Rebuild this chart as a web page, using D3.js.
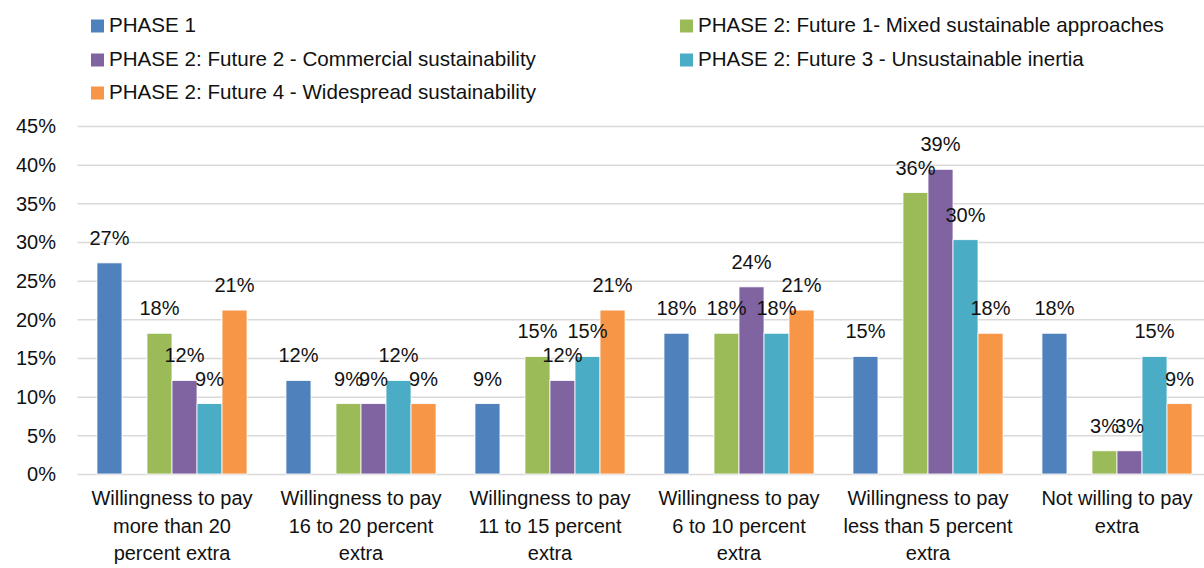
<!DOCTYPE html>
<html>
<head>
<meta charset="utf-8">
<script src="https://cdnjs.cloudflare.com/ajax/libs/d3/7.8.5/d3.min.js"></script>
<style>
  body { margin: 0; background: #fff; }
  svg { display: block; font-family: "Liberation Sans", Arial, sans-serif; }
  .grid line { stroke: #d9d9d9; stroke-width: 1.5; }
  .grid path { display: none; }
</style>
</head>
<body>
<script>
// categories along the x axis (each line of the wrapped label)
var categories = [
  ["Willingness to pay", "more than 20", "percent extra"],
  ["Willingness to pay", "16 to 20 percent", "extra"],
  ["Willingness to pay", "11 to 15 percent", "extra"],
  ["Willingness to pay", "6 to 10 percent", "extra"],
  ["Willingness to pay", "less than 5 percent", "extra"],
  ["Not willing to pay", "extra"]
];

// series values (fractions)
var phase1  = [0.273, 0.121, 0.091, 0.182, 0.152, 0.182];
var future1 = [0.182, 0.091, 0.152, 0.182, 0.364, 0.030];
var future2 = [0.121, 0.091, 0.121, 0.242, 0.394, 0.030];
var future3 = [0.091, 0.121, 0.152, 0.182, 0.303, 0.152];
var future4 = [0.212, 0.091, 0.212, 0.212, 0.182, 0.091];

var seriesNames = [
  "PHASE 1",
  "PHASE 2: Future 1- Mixed sustainable approaches",
  "PHASE 2: Future 2 - Commercial sustainability",
  "PHASE 2: Future 3 - Unsustainable inertia",
  "PHASE 2: Future 4 - Widespread sustainability"
];
var seriesColors = ["#4f81bd", "#9bbb59", "#8064a2", "#4bacc6", "#f79646"];

// slot order inside each group; the second slot is an empty series
var slots = ["s0", "blank", "s1", "s2", "s3", "s4"];

var yTicks = [0, 0.05, 0.10, 0.15, 0.20, 0.25, 0.30, 0.35, 0.40, 0.45];

var series = [phase1, future1, future2, future3, future4].map(function(v, i) {
  return { key: "s" + i, name: seriesNames[i], color: seriesColors[i], values: v };
});

var width = 1204, height = 568;
var plot = { left: 77.5, right: 1211.5, top: 126, bottom: 474 };

var svg = d3.select("body").append("svg")
    .attr("width", width)
    .attr("height", height);

var x0 = d3.scaleBand()
    .domain(d3.range(categories.length))
    .range([plot.left, plot.right])
    .paddingInner(0.206)
    .paddingOuter(0.103);

var x1 = d3.scaleBand()
    .domain(slots)
    .range([0, x0.bandwidth()]);

var y = d3.scaleLinear()
    .domain([0, 0.45])
    .range([plot.bottom, plot.top]);

// gridlines
svg.append("g")
    .attr("class", "grid")
    .attr("transform", "translate(" + plot.left + ",0)")
    .call(d3.axisLeft(y).tickValues(yTicks).tickSize(-(plot.right - plot.left)).tickFormat(""));

// y tick labels
svg.append("g")
  .selectAll("text")
  .data(yTicks)
  .enter().append("text")
    .attr("x", 56)
    .attr("y", function(d) { return y(d); })
    .attr("dy", "0.36em")
    .attr("text-anchor", "end")
    .attr("font-size", 20)
    .attr("fill", "#111")
    .text(d3.format(".0%"));

// bars
var groups = svg.append("g")
  .selectAll("g")
  .data(categories)
  .enter().append("g")
    .attr("transform", function(d, i) { return "translate(" + x0(i) + ",0)"; });

groups.selectAll("rect")
    .data(function(d, i) {
      return series.map(function(s) { return { key: s.key, color: s.color, value: s.values[i] }; });
    })
  .enter().append("rect")
    .attr("x", function(d) { return x1(d.key); })
    .attr("y", function(d) { return y(d.value); })
    .attr("width", x1.bandwidth())
    .attr("height", function(d) { return y(0) - y(d.value); })
    .attr("fill", function(d) { return d.color; })
    .attr("stroke", "#fff")
    .attr("stroke-width", 0.8);

// data labels (overlapping pairs are as in the original)
groups.selectAll("text.lbl")
    .data(function(d, i) {
      return series.map(function(s) { return { key: s.key, value: s.values[i] }; });
    })
  .enter().append("text")
    .attr("class", "lbl")
    .attr("x", function(d) { return x1(d.key) + x1.bandwidth() / 2; })
    .attr("y", function(d) { return y(d.value) - 18; })
    .attr("text-anchor", "middle")
    .attr("font-size", 20)
    .attr("fill", "#111")
    .text(function(d) { return d3.format(".0%")(d.value); });

// category labels
var catLabels = svg.append("g")
  .selectAll("text")
  .data(categories)
  .enter().append("text")
    .attr("x", function(d, i) { return x0(i) + x0.bandwidth() / 2; })
    .attr("y", 505)
    .attr("text-anchor", "middle")
    .attr("font-size", 20)
    .attr("fill", "#111");

catLabels.selectAll("tspan")
    .data(function(d) { return d; })
  .enter().append("tspan")
    .attr("x", function() { return d3.select(this.parentNode).attr("x"); })
    .attr("dy", function(d, i) { return i === 0 ? 0 : 27.5; })
    .text(function(d) { return d; });

// legend
var legendPos = [
  { x: 91, y: 32 },   // PHASE 1
  { x: 680, y: 32 },  // Future 1
  { x: 91, y: 66 },   // Future 2
  { x: 680, y: 66 },  // Future 3
  { x: 91, y: 99 }    // Future 4
];

var legend = svg.append("g")
  .selectAll("g")
  .data(series)
  .enter().append("g")
    .attr("transform", function(d, i) { return "translate(" + legendPos[i].x + "," + legendPos[i].y + ")"; });

legend.append("rect")
    .attr("x", 0)
    .attr("y", -12.5)
    .attr("width", 13)
    .attr("height", 13)
    .attr("fill", function(d) { return d.color; });

legend.append("text")
    .attr("x", 18)
    .attr("y", 0)
    .attr("font-size", 20.6)
    .attr("fill", "#111")
    .text(function(d) { return d.name; });
</script>
</body>
</html>
